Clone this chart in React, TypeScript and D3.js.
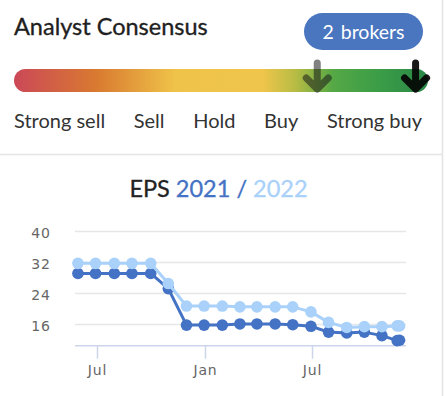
import React, { useEffect, useRef } from "react";
import * as d3 from "d3";

// consensus gauge
const ratingLabels = ["Strong sell", "Sell", "Hold", "Buy", "Strong buy"];
const brokerCount = 2;
const consensusScores = [3.93, 4.88]; // previous, current (1 = strong sell, 5 = strong buy)

// EPS estimates
const epsDates = [
  "2020-05-29", "2020-06-28", "2020-07-30", "2020-08-29", "2020-09-30",
  "2020-10-30", "2020-11-30", "2020-12-30", "2021-01-30", "2021-03-01",
  "2021-03-30", "2021-04-30", "2021-05-30", "2021-06-30", "2021-07-30",
  "2021-08-30", "2021-09-29", "2021-10-29", "2021-11-24", "2021-11-28",
];
const eps2021 = [29.0, 29.0, 29.0, 29.0, 29.0, 25.1, 15.7, 15.7, 15.7, 16.0, 16.0, 16.0, 15.8, 15.4, 13.9, 13.7, 13.9, 13.0, 11.7, 11.8];
const eps2022 = [31.6, 31.6, 31.6, 31.6, 31.6, 26.4, 20.6, 20.6, 20.6, 20.4, 20.4, 20.4, 20.4, 19.1, 16.4, 15.1, 15.3, 15.3, 15.5, 15.5];
const yTicks = [16, 24, 32, 40];
const yDomain = [10.4, 40];
const xDomain = ["2020-05-24", "2021-12-09"];
const xTickDates = ["2020-07-01", "2021-01-01", "2021-07-01"];
const xTickLabels = ["Jul", "Jan", "Jul"];

const DARK = "#4472c4";
const LIGHT = "#a9d1fa";
const FONT = "Lato, 'Open Sans', sans-serif";
const AXIS_FONT = "'DejaVu Sans', Verdana, sans-serif";

const App = () => {
  const svgRef = useRef<SVGSVGElement | null>(null);

  useEffect(() => {
    const width = 446;
    const height = 396;
    const svg = d3.select(svgRef.current).attr("width", width).attr("height", height);
    svg.selectAll("*").remove();

    // === card frame ===
    svg.append("rect").attr("width", width).attr("height", height).attr("fill", "#fff");
    svg.append("line").attr("x1", 442.5).attr("x2", 442.5).attr("y1", 0).attr("y2", height)
      .attr("stroke", "#e4e4e4").attr("stroke-width", 1.5);
    svg.append("line").attr("x1", 0).attr("x2", 442).attr("y1", 154.5).attr("y2", 154.5)
      .attr("stroke", "#e4e4e4").attr("stroke-width", 1.5);

    // === header ===
    svg.append("text").attr("x", 14).attr("y", 35).attr("font-family", FONT)
      .attr("font-size", 23.5).attr("fill", "#1f1f1f")
      .attr("stroke", "#1f1f1f").attr("stroke-width", 0.35)
      .text("Analyst Consensus");

    svg.append("rect").attr("x", 304).attr("y", 13).attr("width", 119).attr("height", 37)
      .attr("rx", 18.5).attr("fill", "#4a76c0");
    svg.append("text").attr("x", 363.5).attr("y", 39).attr("text-anchor", "middle")
      .attr("font-family", FONT).attr("font-size", 19.5).attr("fill", "#fff")
      .attr("word-spacing", 2)
      .text(`${brokerCount} brokers`);

    // === gauge bar ===
    const barX0 = 14, barX1 = 428, barY = 69, barH = 23;
    const grad = svg.append("defs").append("linearGradient").attr("id", "gauge")
      .attr("x1", "0%").attr("x2", "100%");
    const stops: [number, string][] = [
      [0, "#cb4858"], [0.2, "#d97a30"], [0.39, "#efc349"], [0.6, "#f0c54b"],
      [0.68, "#b7bc44"], [0.77, "#55a845"], [0.88, "#3b9d47"], [1, "#2a8847"],
    ];
    stops.forEach(([o, c]) => grad.append("stop").attr("offset", o).attr("stop-color", c));
    svg.append("rect").attr("x", barX0).attr("y", barY).attr("width", barX1 - barX0)
      .attr("height", barH).attr("rx", barH / 2).attr("fill", "url(#gauge)");

    const score = d3.scaleLinear().domain([1, 5]).range([barX0, barX1]);
    consensusScores.forEach((s, i) => {
      const g = svg.append("g").attr("transform", `translate(${score(s)},0)`)
        .attr("opacity", i === 0 ? 0.55 : 0.92)
        .attr("stroke", i === 0 ? "#1a1a1a" : "#050505");
      g.append("path").attr("d", "M0,63V88M-11,78L0,89L11,78")
        .attr("fill", "none").attr("stroke-width", 7)
        .attr("stroke-linecap", "round").attr("stroke-linejoin", "round");
    });

    // rating labels spread with equal gaps
    const labels = svg.append("g").attr("font-family", FONT).attr("font-size", 20).attr("fill", "#333");
    const nodes = ratingLabels.map((t) => labels.append("text").attr("y", 128).text(t));
    const widths = nodes.map((n) => (n.node() as SVGTextElement).getComputedTextLength());
    const gap = (422 - barX0 - d3.sum(widths)) / (ratingLabels.length - 1);
    let cx = barX0;
    nodes.forEach((n, i) => {
      n.attr("x", cx);
      cx += widths[i] + gap;
    });

    // === EPS chart ===
    const title = svg.append("text").attr("x", 218.5).attr("y", 197).attr("text-anchor", "middle")
      .attr("font-family", FONT).attr("font-size", 23.5).attr("stroke-width", 0.3);
    title.append("tspan").attr("fill", "#222").attr("stroke", "#222").text("EPS ");
    title.append("tspan").attr("fill", DARK).attr("stroke", DARK).text("2021 / ");
    title.append("tspan").attr("fill", LIGHT).attr("stroke", LIGHT).text("2022");

    const left = 75, right = 406, top = 230.7, bottom = 345.7;
    const x = d3.scaleTime().domain(xDomain.map((d) => new Date(d))).range([left, right]);
    const y = d3.scaleLinear().domain(yDomain).range([bottom, top]);

    svg.append("g").selectAll("line").data(yTicks).join("line")
      .attr("x1", left).attr("x2", right)
      .attr("y1", (d) => Math.round(y(d)) + 0.5).attr("y2", (d) => Math.round(y(d)) + 0.5)
      .attr("stroke", "#e6e6e6").attr("stroke-width", 1.5);
    svg.append("g").selectAll("text").data(yTicks).join("text")
      .attr("x", 51).attr("y", (d) => y(d) + 7.5).attr("text-anchor", "end")
      .attr("font-family", AXIS_FONT).attr("font-size", 14).attr("fill", "#666")
      .attr("letter-spacing", 1).text((d) => d);

    // x axis
    svg.append("line").attr("x1", left).attr("x2", right).attr("y1", bottom).attr("y2", bottom)
      .attr("stroke", "#ccd6eb").attr("stroke-width", 1.5);
    const xt = svg.append("g").selectAll("g").data(xTickDates).join("g")
      .attr("transform", (d) => `translate(${Math.round(x(new Date(d))) + 0.5},0)`);
    xt.append("line").attr("y1", bottom).attr("y2", bottom + 13).attr("stroke", "#ccd6eb").attr("stroke-width", 1.5);
    xt.append("text").attr("y", 375).attr("text-anchor", "middle").attr("font-family", AXIS_FONT)
      .attr("font-size", 14).attr("fill", "#666").attr("letter-spacing", 0.8)
      .text((_, i) => xTickLabels[i]);

    const line = d3.line<number>()
      .x((_, i) => x(new Date(epsDates[i])))
      .y((d) => y(d));

    [
      { values: eps2021, color: DARK },
      { values: eps2022, color: LIGHT },
    ].forEach((s) => {
      svg.append("path").attr("d", line(s.values)).attr("fill", "none")
        .attr("stroke", s.color).attr("stroke-width", 3).attr("stroke-linejoin", "round");
      svg.append("g").selectAll("circle").data(s.values).join("circle")
        .attr("cx", (_, i) => x(new Date(epsDates[i])))
        .attr("cy", (d) => y(d)).attr("r", 5.8).attr("fill", s.color);
    });
  }, []);

  return (
    <div style={{ position: "absolute", left: 0, top: 0 }}>
      <svg ref={svgRef} style={{ display: "block" }}></svg>
    </div>
  );
};

export default App;
